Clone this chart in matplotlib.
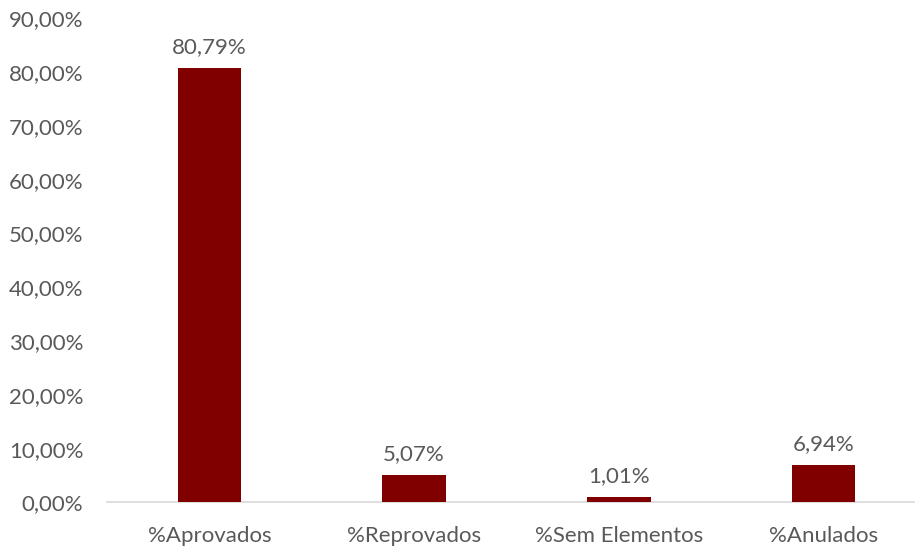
import matplotlib
matplotlib.use('Agg')
import matplotlib.pyplot as plt
import numpy as np

categories = ['%Aprovados', '%Reprovados', '%Sem Elementos', '%Anulados']
values = [80.79, 5.07, 1.01, 6.94]
value_labels = ['80,79%', '5,07%', '1,01%', '6,94%']
yticks = np.arange(0, 100, 10)
ytick_labels = ['%d,00%%' % t for t in yticks]

plt.rcParams['font.family'] = ['Lato', 'DejaVu Sans']
txt = '#595959'
fs = 16

fig = plt.figure(figsize=(9.15, 5.5), dpi=100)
ax = fig.add_axes([0.117, 0.0864, 0.895, 0.88])

x = np.arange(len(categories))
bars = ax.bar(x, values, width=0.31, color='#800000', zorder=3)
for b, lab in zip(bars, value_labels):
    ax.annotate(lab, (b.get_x() + b.get_width() / 2, b.get_height()),
                xytext=(0, 8), textcoords='offset points',
                ha='center', va='bottom', fontsize=fs, color=txt)

ax.set_xlim(-0.5, 3.5)
ax.set_ylim(0, 90)
ax.set_yticks(yticks)
ax.set_yticklabels(ytick_labels)
ax.set_xticks(x)
ax.set_xticklabels(categories)
ax.tick_params(axis='both', length=0, labelsize=fs, colors=txt)
ax.tick_params(axis='y', pad=17)
ax.tick_params(axis='x', pad=17)
for s in ['top', 'right', 'left']:
    ax.spines[s].set_visible(False)
ax.spines['bottom'].set_color('#d9d9d9')
ax.spines['bottom'].set_linewidth(1.2)

fig.savefig('out.png', dpi=100)
